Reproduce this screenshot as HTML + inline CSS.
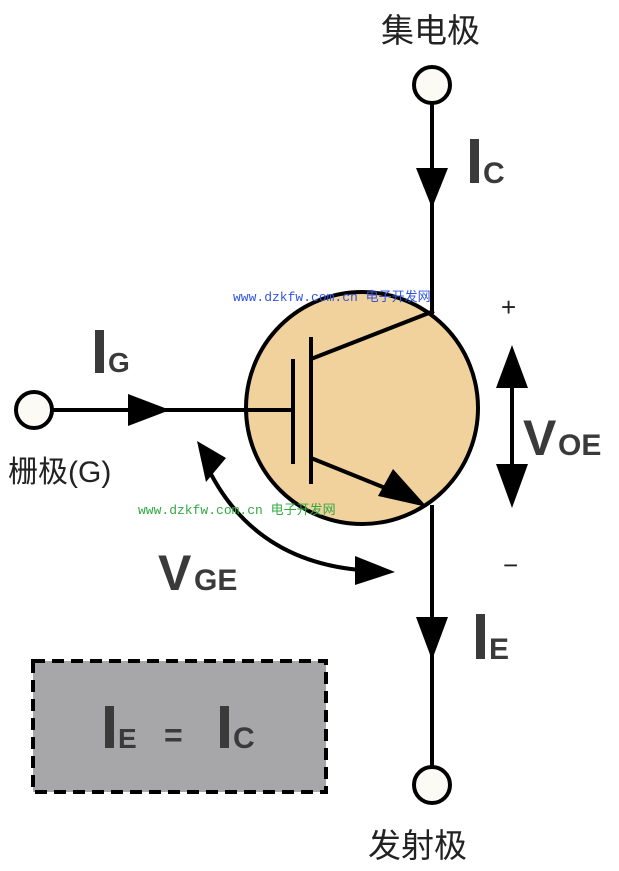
<!DOCTYPE html>
<html><head><meta charset="utf-8"><style>
body{margin:0;background:#fff}
svg{display:block}
</style></head><body>
<svg width="619" height="871" viewBox="0 0 619 871" xmlns="http://www.w3.org/2000/svg" font-family="Liberation Sans, Noto Sans CJK SC, sans-serif">
<circle cx="362" cy="408" r="116" fill="#f1d19c" stroke="#000" stroke-width="4"/>
<g stroke="#000" stroke-width="4" fill="none">
<line x1="432" y1="103" x2="432" y2="314"/>
<line x1="432" y1="505" x2="432" y2="767"/>
<line x1="53" y1="410" x2="293" y2="410"/>
<line x1="293" y1="359" x2="293" y2="464"/>
<line x1="311" y1="337" x2="311" y2="484"/>
<line x1="311" y1="359" x2="434" y2="311"/>
<line x1="311" y1="458" x2="400" y2="494"/>
<line x1="512" y1="380" x2="512" y2="470"/>
<path d="M205 462 Q250 560 360 570"/>
</g>
<g fill="#000">
<polygon points="416,168 448,168 432,208"/>
<polygon points="416,617 448,617 432,660"/>
<polygon points="128,394 128,426 170,410"/>
<polygon points="496,388 528,388 512,345"/>
<polygon points="496,464 528,464 512,508"/>
<polygon points="427,507 378,496 393,469"/>
<polygon points="197,441 226,458 206,482"/>
<polygon points="355,556 395,572 355,585"/>
</g>
<g fill="#fbfaf5" stroke="#000" stroke-width="4">
<circle cx="432" cy="85" r="18"/>
<circle cx="432" cy="785" r="18"/>
<circle cx="34" cy="410" r="18"/>
</g>
<rect x="33" y="661" width="293" height="131" fill="#a7a7a9" stroke="#000" stroke-width="4" stroke-dasharray="12,7"/>
<g fill="#3a3a3a" font-weight="bold">
<rect x="105" y="706" width="9" height="42"/>
<text x="118" y="748" font-size="28">E</text>
<text x="164" y="746" font-size="32">=</text>
<rect x="220" y="706" width="9" height="42"/>
<text x="233" y="748" font-size="30">C</text>
<rect x="470" y="139" width="9" height="44"/>
<text x="483" y="183" font-size="30">C</text>
<rect x="476" y="614" width="9" height="45"/>
<text x="489" y="659" font-size="30">E</text>
<rect x="95" y="330" width="9" height="43"/>
<text x="108" y="372" font-size="28">G</text>
<text x="523" y="455" font-size="50">V</text>
<text x="558" y="455" font-size="30">OE</text>
<text x="158" y="590" font-size="50">V</text>
<text x="194" y="590" font-size="30">GE</text>
</g>
<g fill="#222">
<text x="381" y="42" font-size="33">集电极</text>
<text x="368" y="857" font-size="33">发射极</text>
<text x="8" y="482" font-size="30">栅极(G)</text>
<text x="501" y="316" font-size="26">+</text>
<text x="503" y="574" font-size="26">−</text>
</g>
<text x="233" y="301" font-size="13" fill="#3355dd" style="font-family:'Liberation Mono','Noto Sans CJK SC',monospace">www.dzkfw.com.cn 电子开发网</text>
<text x="138" y="514" font-size="13" fill="#33aa44" style="font-family:'Liberation Mono','Noto Sans CJK SC',monospace">www.dzkfw.com.cn 电子开发网</text>
</svg>
</body></html>
